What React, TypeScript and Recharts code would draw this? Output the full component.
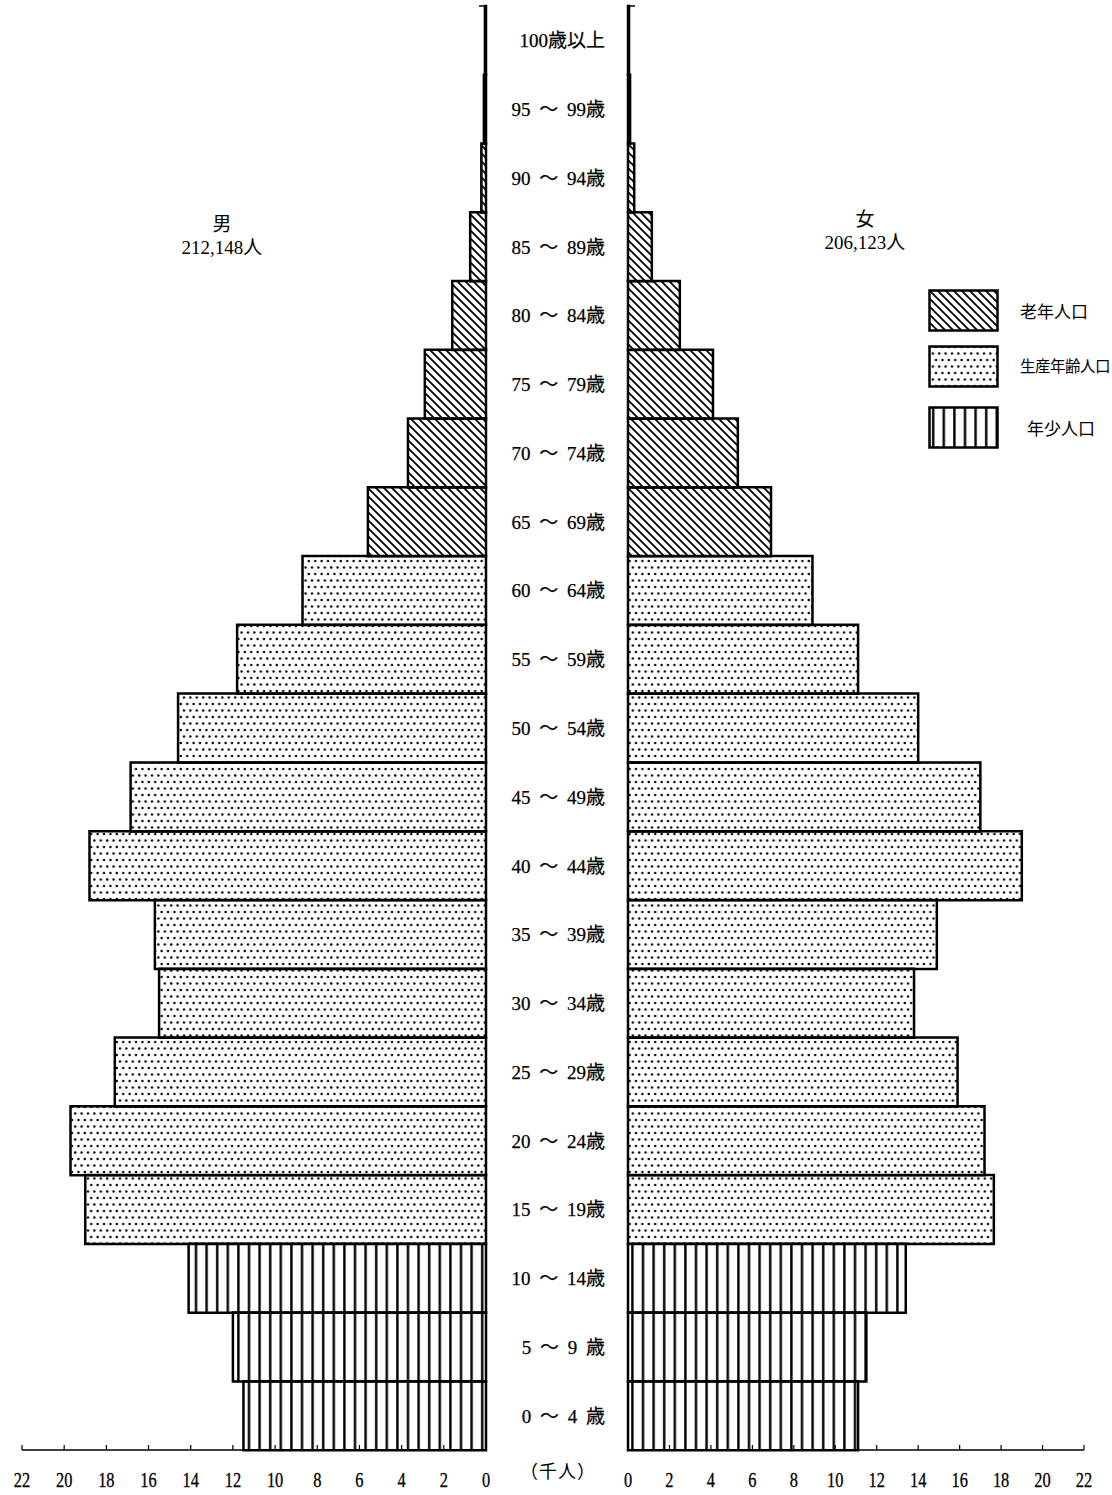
import { Bar, BarChart, XAxis, YAxis } from 'recharts'

// age bands, top of the pyramid first
const ageLabels = [
  '100歳以上', '95 ～ 99歳', '90 ～ 94歳', '85 ～ 89歳', '80 ～ 84歳', '75 ～ 79歳',
  '70 ～ 74歳', '65 ～ 69歳', '60 ～ 64歳', '55 ～ 59歳', '50 ～ 54歳', '45 ～ 49歳',
  '40 ～ 44歳', '35 ～ 39歳', '30 ～ 34歳', '25 ～ 29歳', '20 ～ 24歳', '15 ～ 19歳',
  '10 ～ 14歳', '5 ～ 9 歳', '0 ～ 4 歳',
]

// 老年 / 生産年齢 / 年少
const ageGroups = [
  'old', 'old', 'old', 'old', 'old', 'old', 'old', 'old',
  'working', 'working', 'working', 'working', 'working',
  'working', 'working', 'working', 'working', 'working',
  'young', 'young', 'young',
]

// thousands of people
const maleValues = [
  0.05, 0.1, 0.22, 0.75, 1.6, 2.9, 3.7, 5.6, 8.7, 11.8, 14.6, 16.85,
  18.8, 15.7, 15.5, 17.6, 19.7, 19.0, 14.1, 12.0, 11.5,
]
const femaleValues = [
  0.05, 0.1, 0.3, 1.15, 2.5, 4.1, 5.3, 6.9, 8.9, 11.1, 14.0, 17.0,
  19.0, 14.9, 13.8, 15.9, 17.2, 17.65, 13.4, 11.5, 11.1,
]

const xTicks = [0, 2, 4, 6, 8, 10, 12, 14, 16, 18, 20, 22]

const toRows = (values: number[]) =>
  ageLabels.map((age, i) => ({
    age,
    old: ageGroups[i] === 'old' ? values[i] : 0,
    working: ageGroups[i] === 'working' ? values[i] : 0,
    young: ageGroups[i] === 'young' ? values[i] : 0,
  }))

const maleRows = toRows(maleValues)
const femaleRows = toRows(femaleValues)

const serif = "'Liberation Serif', 'Noto Sans CJK JP', serif"
const cjk = "'Noto Sans CJK JP', sans-serif"

const AxisTick = (props: any) => {
  const { x, y, payload } = props
  return (
    <g>
      <line x1={x} x2={x} y1={y} y2={y - 5} stroke='#000' strokeWidth={1.2} />
      <text
        transform={`translate(${x},${y + 37}) scale(0.82,1)`}
        textAnchor='middle'
        fontSize={20}
        fontFamily={serif}
        stroke='#000'
        strokeWidth={0.3}
        fill='#000'
      >
        {payload.value}
      </text>
    </g>
  )
}

const AgeTick = (props: any) => {
  const { x, y, payload } = props
  return (
    <text
      x={x - 23}
      y={y + 7}
      textAnchor='end'
      fontSize={19}
      wordSpacing={4}
      fontFamily={serif}
      stroke='#000'
      strokeWidth={0.25}
      fill='#000'
    >
      {payload.value}
    </text>
  )
}

const barProps = {
  stackId: 's',
  stroke: '#000',
  strokeWidth: 2.5,
  isAnimationActive: false,
}

function Patterns() {
  return (
    <svg width={0} height={0} style={{ position: 'absolute' }}>
      <defs>
        <pattern id='hatch' patternUnits='userSpaceOnUse' width={8} height={8}>
          <path d='M-1,7 l2,2 M0,0 l8,8 M7,-1 l2,2' stroke='#000' strokeWidth={1.8} />
        </pattern>
        <pattern id='dots' patternUnits='userSpaceOnUse' width={6.4} height={13}>
          <circle cx={1.6} cy={2} r={1.2} fill='#000' />
          <circle cx={4.8} cy={8.5} r={1.2} fill='#000' />
        </pattern>
        <pattern id='vlines' patternUnits='userSpaceOnUse' width={10.6} height={10}>
          <rect x={4} y={0} width={2.4} height={10} fill='#000' />
        </pattern>
      </defs>
    </svg>
  )
}

const legendItems = [
  { label: '老年人口', fill: 'url(#hatch)', top: 289, textLeft: 1020, size: 17, spacing: 0 },
  { label: '生産年齢人口', fill: 'url(#dots)', top: 345, textLeft: 1020, size: 15.5, spacing: -0.5 },
  { label: '年少人口', fill: 'url(#vlines)', top: 406, textLeft: 1027, size: 17, spacing: 0 },
]

export default function App() {
  return (
    <div
      style={{
        position: 'absolute',
        left: 0,
        top: 0,
        width: 1112,
        height: 1495,
        overflow: 'hidden',
        background: '#fff',
      }}
    >
      <Patterns />

      <div style={{ position: 'absolute', left: 0, top: 0 }}>
        <BarChart
          width={500}
          height={1495}
          data={maleRows}
          layout='vertical'
          barCategoryGap={0}
          barGap={0}
          margin={{ top: 6, right: 14, bottom: 0, left: 22 }}
        >
          <XAxis
            type='number'
            domain={[0, 22]}
            ticks={xTicks}
            interval={0}
            reversed
            height={45}
            tickSize={0}
            tickMargin={0}
            tickLine={false}
            tick={<AxisTick />}
            axisLine={{ stroke: '#000', strokeWidth: 1.5 }}
          />
          <YAxis
            type='category'
            dataKey='age'
            orientation='right'
            width={0}
            tick={false}
            tickLine={false}
            axisLine={{ stroke: '#000', strokeWidth: 2 }}
          />
          <Bar dataKey='old' fill='url(#hatch)' {...barProps} />
          <Bar dataKey='working' fill='url(#dots)' {...barProps} />
          <Bar dataKey='young' fill='url(#vlines)' {...barProps} />
        </BarChart>
      </div>

      <div style={{ position: 'absolute', left: 500, top: 0 }}>
        <BarChart
          width={612}
          height={1495}
          data={femaleRows}
          layout='vertical'
          barCategoryGap={0}
          barGap={0}
          margin={{ top: 6, right: 28, bottom: 0, left: 0 }}
        >
          <XAxis
            type='number'
            domain={[0, 22]}
            ticks={xTicks}
            interval={0}
            height={45}
            tickSize={0}
            tickMargin={0}
            tickLine={false}
            tick={<AxisTick />}
            axisLine={{ stroke: '#000', strokeWidth: 1.5 }}
          />
          <YAxis
            type='category'
            dataKey='age'
            orientation='left'
            width={128}
            interval={0}
            tickSize={0}
            tickMargin={0}
            tickLine={false}
            tick={<AgeTick />}
            axisLine={{ stroke: '#000', strokeWidth: 2 }}
          />
          <Bar dataKey='old' fill='url(#hatch)' {...barProps} />
          <Bar dataKey='working' fill='url(#dots)' {...barProps} />
          <Bar dataKey='young' fill='url(#vlines)' {...barProps} />
        </BarChart>
      </div>

      {/* bracket hooks at the top of the two centre axes */}
      <svg width={1112} height={20} style={{ position: 'absolute', left: 0, top: 0 }}>
        <line x1={479} x2={487} y1={6} y2={6} stroke='#000' strokeWidth={1.5} />
        <line x1={627} x2={635} y1={6} y2={6} stroke='#000' strokeWidth={1.5} />
      </svg>

      <div
        style={{
          position: 'absolute',
          left: 122,
          top: 213,
          width: 200,
          textAlign: 'center',
          fontFamily: serif,
          fontSize: 19,
          lineHeight: '23px',
        }}
      >
        <div>男</div>
        <div>212,148人</div>
      </div>
      <div
        style={{
          position: 'absolute',
          left: 765,
          top: 208,
          width: 200,
          textAlign: 'center',
          fontFamily: serif,
          fontSize: 19,
          lineHeight: '23px',
        }}
      >
        <div>女</div>
        <div>206,123人</div>
      </div>

      <div
        style={{
          position: 'absolute',
          left: 520,
          top: 1457,
          fontFamily: cjk,
          fontSize: 18,
          letterSpacing: 1,
          whiteSpace: 'nowrap',
        }}
      >
        （千人）
      </div>

      {legendItems.map((item) => (
        <div key={item.label}>
          <svg
            width={72}
            height={44}
            style={{ position: 'absolute', left: 928, top: item.top }}
          >
            <rect x={1.5} y={1.5} width={68} height={40} fill={item.fill} stroke='#000' strokeWidth={2.5} />
          </svg>
          <div
            style={{
              position: 'absolute',
              left: item.textLeft,
              top: item.top + 9,
              fontFamily: cjk,
              fontSize: item.size,
              letterSpacing: item.spacing,
              whiteSpace: 'nowrap',
            }}
          >
            {item.label}
          </div>
        </div>
      ))}
    </div>
  )
}
